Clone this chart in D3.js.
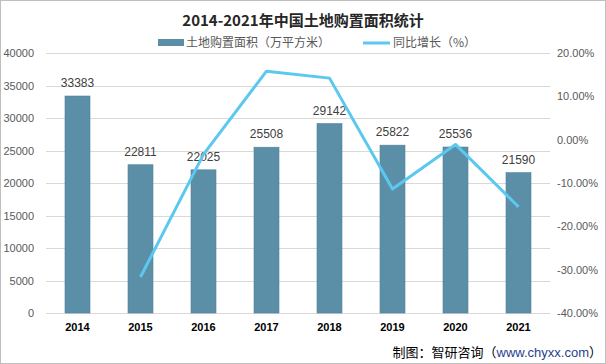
<!DOCTYPE html>
<html><head><meta charset="utf-8">
<script src="https://cdn.jsdelivr.net/npm/d3@7"></script>
<style>body{margin:0;background:#fff;}svg{display:block;font-family:"Noto Sans CJK SC","Noto Sans",sans-serif;}</style>
</head><body><svg id="c" width="606" height="364"></svg>
<script>
const years = ["2014","2015","2016","2017","2018","2019","2020","2021"];
const area = [33383,22811,22025,25508,29142,25822,25536,21590];
const growth = [null,-31.7,-3.4,15.8,14.2,-11.4,-1.1,-15.5];
const leftTicks = [0,5000,10000,15000,20000,25000,30000,35000,40000];
const rightTicks = [-40,-30,-20,-10,0,10,20];

const svg = d3.select("#c");
const L=46,R=550,T=53,B=313;
svg.append("rect").attr("x",0.5).attr("y",0.5).attr("width",605).attr("height",363).attr("fill","#fff").attr("stroke","#bfbfbf");

const xc = d3.scalePoint().domain(years).range([L+31.5,R-31.5]);
const y = d3.scaleLinear().domain([0,40000]).range([B,T]);
const y2 = d3.scaleLinear().domain([-40,20]).range([B,T]);

// grid
svg.append("g").selectAll("line").data(leftTicks).join("line")
  .attr("x1",L).attr("x2",R).attr("y1",d=>Math.round(y(d))+0.5).attr("y2",d=>Math.round(y(d))+0.5)
  .attr("stroke","#d9d9d9");

// left axis
const ga = svg.append("g").attr("transform",`translate(${L},0)`)
  .call(d3.axisLeft(y).tickValues(leftTicks).tickSize(0).tickPadding(12).tickFormat(d3.format("d")));
ga.select(".domain").remove();
ga.selectAll("text").attr("fill","#595959").attr("font-size",11).style("font-family","'Liberation Sans',sans-serif");

const gr = svg.append("g").attr("transform",`translate(${R},0)`)
  .call(d3.axisRight(y2).tickValues(rightTicks).tickSize(0).tickPadding(7).tickFormat(d=>d.toFixed(2)+"%"));
gr.select(".domain").remove();
gr.selectAll("text").attr("fill","#595959").attr("font-size",11).style("font-family","'Liberation Sans',sans-serif");

// bars
const bw = 25;
svg.append("g").selectAll("rect").data(years).join("rect")
  .attr("x",(d)=>xc(d)-bw/2).attr("width",bw)
  .attr("y",(d,i)=>y(area[i])).attr("height",(d,i)=>B-y(area[i]))
  .attr("fill","#5b8fa8").attr("stroke","#52829a").attr("stroke-width",0.6);

svg.append("g").selectAll("text").data(years).join("text")
  .attr("x",d=>xc(d)).attr("y",(d,i)=>y(area[i])-9)
  .attr("text-anchor","middle").attr("font-size",12).attr("fill","#404040")
  .style("font-family","'Liberation Sans',sans-serif")
  .text((d,i)=>area[i]);

// x axis labels
svg.append("g").selectAll("text").data(years).join("text")
  .attr("x",d=>xc(d)).attr("y",B+18).attr("text-anchor","middle")
  .attr("font-size",11).attr("font-weight","bold").attr("fill","#000")
  .style("font-family","'Liberation Sans',sans-serif").text(d=>d);

// line
const pts = years.map((d,i)=>[xc(d),growth[i]]).filter(p=>p[1]!==null);
svg.append("path").datum(pts)
  .attr("d",d3.line().x(p=>p[0]).y(p=>y2(p[1])))
  .attr("fill","none").attr("stroke","#5bc8f0").attr("stroke-width",3).attr("stroke-linejoin","round");

// title
svg.append("text").attr("x",303).attr("y",26).attr("text-anchor","middle")
  .attr("font-size",15).attr("font-weight","bold").attr("fill","#262626")
  .text("2014-2021年中国土地购置面积统计");

// legend
svg.append("rect").attr("x",158).attr("y",39).attr("width",26).attr("height",7).attr("fill","#5b8fa8");
svg.append("text").attr("x",186).attr("y",47).attr("font-size",12).attr("fill","#595959").text("土地购置面积（万平方米）");
svg.append("line").attr("x1",363).attr("x2",390).attr("y1",43).attr("y2",43).attr("stroke","#5bc8f0").attr("stroke-width",3);
svg.append("text").attr("x",393).attr("y",47).attr("font-size",12).attr("fill","#595959").text("同比增长（%）");

// footer
const ft = svg.append("text").attr("x",602).attr("y",357).attr("text-anchor","end").attr("font-size",13).attr("fill","#000");
ft.append("tspan").text("制图：智研咨询（");
ft.append("tspan").attr("fill","#1f3f8f").style("font-family","'Liberation Sans',sans-serif").text("www.chyxx.com");
ft.append("tspan").text("）");
</script></body></html>
